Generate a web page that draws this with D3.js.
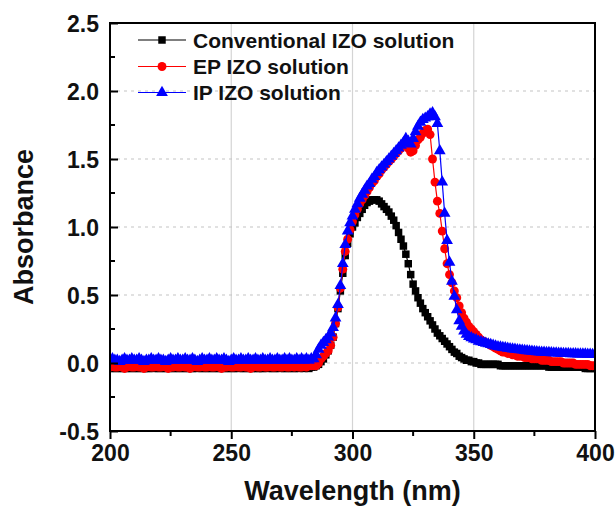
<!DOCTYPE html>
<html>
<head>
<meta charset="utf-8">
<script src="https://cdn.jsdelivr.net/npm/d3@7"></script>
<style>
  html, body { margin: 0; padding: 0; background: #fff; }
  svg { display: block; }
  text { font-family: "Liberation Sans", Arial, sans-serif; font-weight: bold; fill: #111; }
</style>
</head>
<body>
<svg id="chart" width="616" height="506"></svg>
<script>
// ---- Data (absorbance per wavelength, 200..400 nm, 1 nm step) ----
const wavelengths = d3.range(200, 401, 1);

const conventional = [
 -0.04,-0.03,-0.04,-0.04,-0.03,-0.04,-0.04,-0.03,-0.04,-0.04,
 -0.03,-0.04,-0.04,-0.03,-0.04,-0.04,-0.04,-0.03,-0.04,-0.03,
 -0.04,-0.04,-0.03,-0.04,-0.04,-0.03,-0.04,-0.04,-0.03,-0.04,
 -0.04,-0.03,-0.04,-0.04,-0.04,-0.03,-0.04,-0.03,-0.04,-0.04,
 -0.03,-0.04,-0.04,-0.03,-0.04,-0.04,-0.03,-0.04,-0.04,-0.03,
 -0.04,-0.04,-0.03,-0.04,-0.03,-0.04,-0.04,-0.03,-0.04,-0.04,
 -0.03,-0.04,-0.04,-0.04,-0.03,-0.04,-0.03,-0.04,-0.04,-0.03,
 -0.04,-0.03,-0.04,-0.04,-0.03,-0.04,-0.04,-0.03,-0.04,-0.03,
 -0.04,-0.03,-0.04,-0.03,-0.03,-0.02,-0.01,0.01,0.03,0.06,
 0.09,0.13,0.19,0.29,0.40,0.53,0.66,0.79,0.88,0.95,
 1.00,1.03,1.07,1.10,1.13,1.16,1.18,1.19,1.20,1.20,
 1.20,1.19,1.17,1.15,1.13,1.11,1.08,1.05,1.01,0.96,
 0.91,0.86,0.80,0.73,0.65,0.58,0.53,0.48,0.44,0.40,
 0.37,0.34,0.31,0.28,0.25,0.22,0.20,0.18,0.16,0.14,
 0.12,0.10,0.08,0.07,0.05,0.04,0.03,0.02,0.02,0.01,
 0.01,0.00,0.00,-0.01,-0.01,-0.01,-0.01,-0.01,-0.01,-0.01,
 -0.01,-0.02,-0.02,-0.02,-0.02,-0.02,-0.02,-0.02,-0.02,-0.02,
 -0.02,-0.02,-0.02,-0.02,-0.02,-0.02,-0.02,-0.02,-0.02,-0.02,
 -0.02,-0.03,-0.03,-0.03,-0.03,-0.03,-0.03,-0.03,-0.03,-0.03,
 -0.03,-0.03,-0.03,-0.03,-0.03,-0.03,-0.04,-0.04,-0.04,-0.04,
 -0.04
];

const epIZO = [
 -0.03,-0.02,-0.03,-0.03,-0.02,-0.03,-0.04,-0.03,-0.02,-0.03,
 -0.03,-0.02,-0.03,-0.03,-0.04,-0.03,-0.02,-0.03,-0.03,-0.02,
 -0.03,-0.03,-0.02,-0.03,-0.04,-0.03,-0.03,-0.02,-0.03,-0.03,
 -0.02,-0.03,-0.03,-0.04,-0.03,-0.02,-0.03,-0.03,-0.02,-0.03,
 -0.03,-0.02,-0.03,-0.03,-0.02,-0.03,-0.04,-0.03,-0.03,-0.02,
 -0.03,-0.03,-0.02,-0.03,-0.03,-0.02,-0.03,-0.03,-0.04,-0.03,
 -0.02,-0.03,-0.03,-0.02,-0.03,-0.03,-0.02,-0.03,-0.03,-0.02,
 -0.03,-0.03,-0.02,-0.03,-0.03,-0.02,-0.03,-0.02,-0.03,-0.03,
 -0.02,-0.03,-0.02,-0.02,-0.02,-0.02,0.00,0.03,0.05,0.07,
 0.09,0.13,0.19,0.29,0.41,0.55,0.69,0.82,0.91,0.98,
 1.04,1.09,1.13,1.17,1.20,1.23,1.26,1.29,1.32,1.34,
 1.37,1.39,1.42,1.44,1.46,1.48,1.50,1.52,1.54,1.56,
 1.58,1.60,1.61,1.58,1.55,1.56,1.60,1.64,1.66,1.69,
 1.71,1.72,1.68,1.50,1.33,1.19,1.10,0.97,0.84,0.73,
 0.65,0.59,0.53,0.48,0.42,0.37,0.33,0.30,0.27,0.25,
 0.23,0.21,0.19,0.17,0.16,0.15,0.14,0.13,0.12,0.11,
 0.10,0.09,0.08,0.08,0.07,0.07,0.06,0.06,0.05,0.05,
 0.05,0.04,0.04,0.04,0.03,0.03,0.03,0.03,0.02,0.02,
 0.02,0.02,0.01,0.01,0.01,0.01,0.01,0.00,0.00,0.00,
 0.00,0.00,-0.01,-0.01,-0.01,-0.01,-0.01,-0.01,-0.02,-0.02,
 -0.02
];

const ipIZO = [
 0.02,0.03,0.02,0.02,0.01,0.02,0.03,0.02,0.02,0.03,
 0.02,0.02,0.03,0.02,0.01,0.02,0.02,0.03,0.02,0.02,
 0.03,0.02,0.02,0.01,0.02,0.03,0.02,0.02,0.03,0.02,
 0.02,0.03,0.02,0.02,0.03,0.02,0.01,0.02,0.03,0.02,
 0.02,0.03,0.02,0.02,0.03,0.02,0.02,0.03,0.02,0.01,
 0.02,0.03,0.02,0.02,0.03,0.02,0.02,0.03,0.02,0.02,
 0.03,0.02,0.02,0.03,0.02,0.02,0.03,0.02,0.02,0.03,
 0.02,0.02,0.03,0.02,0.03,0.02,0.02,0.03,0.02,0.03,
 0.02,0.03,0.02,0.03,0.03,0.06,0.10,0.13,0.15,0.17,
 0.19,0.22,0.26,0.33,0.43,0.57,0.73,0.87,0.97,1.03,
 1.08,1.13,1.17,1.21,1.24,1.27,1.30,1.32,1.35,1.37,
 1.40,1.42,1.44,1.46,1.48,1.50,1.52,1.54,1.56,1.58,
 1.60,1.62,1.65,1.63,1.61,1.65,1.70,1.74,1.77,1.79,
 1.80,1.81,1.83,1.84,1.81,1.76,1.56,1.33,1.10,0.90,
 0.74,0.60,0.49,0.39,0.31,0.27,0.235,0.21,0.195,0.185,
 0.175,0.17,0.16,0.155,0.15,0.145,0.14,0.135,0.13,0.125,
 0.12,0.117,0.114,0.111,0.108,0.105,0.102,0.10,0.098,0.096,
 0.094,0.092,0.09,0.088,0.086,0.084,0.082,0.08,0.079,0.078,
 0.077,0.076,0.075,0.074,0.073,0.072,0.071,0.07,0.07,0.069,
 0.068,0.068,0.067,0.066,0.066,0.065,0.065,0.064,0.064,0.063,
 0.063
];

const seriesNames = ["Conventional IZO solution", "EP IZO solution", "IP IZO solution"];
const seriesColors = ["#000000", "#ff0000", "#0000ff"];
const seriesSymbols = ["square", "circle", "triangle"];
const xTicks = [200, 250, 300, 350, 400];
const xMinorTicks = [225, 275, 325, 375];
const yTicks = [-0.5, 0.0, 0.5, 1.0, 1.5, 2.0, 2.5];
const yMinorTicks = [-0.25, 0.25, 0.75, 1.25, 1.75, 2.25];
const yGridTicks = [0.0, 0.5, 1.0, 1.5, 2.0];
const xGridTicks = [250, 300, 350];
const xTitle = "Wavelength (nm)";
const yTitle = "Absorbance";

// ---- Layout ----
const svg = d3.select("#chart");
const L = 110, R = 595, T = 23, B = 431;
const x = d3.scaleLinear().domain([200, 400]).range([L, R]);
const y = d3.scaleLinear().domain([-0.5, 2.5]).range([B, T]);

// Grid
svg.append("g").selectAll("line").data(xGridTicks).join("line")
  .attr("x1", d => x(d)).attr("x2", d => x(d)).attr("y1", T).attr("y2", B)
  .attr("stroke", "#d4d4d4").attr("stroke-width", 1.2);
svg.append("g").selectAll("line").data(yGridTicks).join("line")
  .attr("x1", L).attr("x2", R).attr("y1", d => y(d)).attr("y2", d => y(d))
  .attr("stroke", "#c4c4c4").attr("stroke-width", 1.2).attr("stroke-dasharray", "3,4");

// Clip
svg.append("clipPath").attr("id", "clip").append("rect")
  .attr("x", L).attr("y", T).attr("width", R - L).attr("height", B - T);

const symbolTypes = { square: d3.symbolSquare, circle: d3.symbolCircle, triangle: d3.symbolTriangle };
const symbolSizes = { square: 56, circle: 62, triangle: 60 };
const allSeries = [conventional, epIZO, ipIZO];

const plot = svg.append("g").attr("clip-path", "url(#clip)");
allSeries.forEach((vals, i) => {
  const data = wavelengths.map((w, j) => [w, vals[j]]);
  plot.append("path").datum(data)
    .attr("fill", "none").attr("stroke", seriesColors[i]).attr("stroke-width", 1.2)
    .attr("d", d3.line().x(d => x(d[0])).y(d => y(d[1])));
  const sym = d3.symbol().type(symbolTypes[seriesSymbols[i]]).size(symbolSizes[seriesSymbols[i]]);
  plot.append("g").selectAll("path").data(data).join("path")
    .attr("transform", d => `translate(${x(d[0])},${y(d[1])})`)
    .attr("d", sym).attr("fill", seriesColors[i]);
});

// Axes
const xAxis = d3.axisBottom(x).tickValues(xTicks).tickSize(8).tickPadding(6).tickFormat(d3.format("d"));
const gx = svg.append("g").attr("transform", `translate(0,${B})`).call(xAxis);
gx.selectAll(".tick line").attr("stroke", "#000").attr("stroke-width", 2);
gx.select(".domain").remove();
gx.selectAll("text").attr("font-size", 23).attr("fill", "#111")
  .attr("font-family", "Liberation Sans, Arial, sans-serif").attr("font-weight", "bold");
svg.append("g").selectAll("line").data(xMinorTicks).join("line")
  .attr("x1", d => x(d)).attr("x2", d => x(d)).attr("y1", B).attr("y2", B + 5)
  .attr("stroke", "#000").attr("stroke-width", 2);

const yAxis = d3.axisLeft(y).tickValues(yTicks).tickSize(-8).tickPadding(11).tickFormat(d3.format(".1f"));
const gy = svg.append("g").attr("transform", `translate(${L},0)`).call(yAxis);
gy.selectAll(".tick line").attr("stroke", "#000").attr("stroke-width", 2);
gy.select(".domain").remove();
gy.selectAll("text").attr("font-size", 23).attr("fill", "#111").attr("dy", "0.35em")
  .attr("font-family", "Liberation Sans, Arial, sans-serif").attr("font-weight", "bold")
  .text(d => d3.format(".1f")(d).replace("−", "-"));
svg.append("g").selectAll("line").data(yMinorTicks).join("line")
  .attr("x1", L).attr("x2", L + 5).attr("y1", d => y(d)).attr("y2", d => y(d))
  .attr("stroke", "#000").attr("stroke-width", 2);

// Frame
svg.append("rect").attr("x", L).attr("y", T).attr("width", R - L).attr("height", B - T)
  .attr("fill", "none").attr("stroke", "#000").attr("stroke-width", 2);

// Titles
svg.append("text").attr("x", (L + R) / 2).attr("y", 500).attr("text-anchor", "middle")
  .attr("font-size", 27).text(xTitle);
svg.append("text").attr("transform", `translate(33,${(T + B) / 2}) rotate(-90)`)
  .attr("text-anchor", "middle").attr("font-size", 27).text(yTitle);

// Legend
const legY = [40, 66.5, 92.5];
const leg = svg.append("g");
seriesNames.forEach((name, i) => {
  leg.append("line").attr("x1", 138).attr("x2", 186).attr("y1", legY[i]).attr("y2", legY[i])
    .attr("stroke", seriesColors[i]).attr("stroke-width", 1.2);
  const sym = d3.symbol().type(symbolTypes[seriesSymbols[i]]).size(symbolSizes[seriesSymbols[i]]);
  leg.append("path").attr("transform", `translate(162,${legY[i]})`).attr("d", sym).attr("fill", seriesColors[i]);
  leg.append("text").attr("x", 193).attr("y", legY[i]).attr("dy", "0.36em")
    .attr("font-size", 21).text(name);
});
</script>
</body>
</html>
